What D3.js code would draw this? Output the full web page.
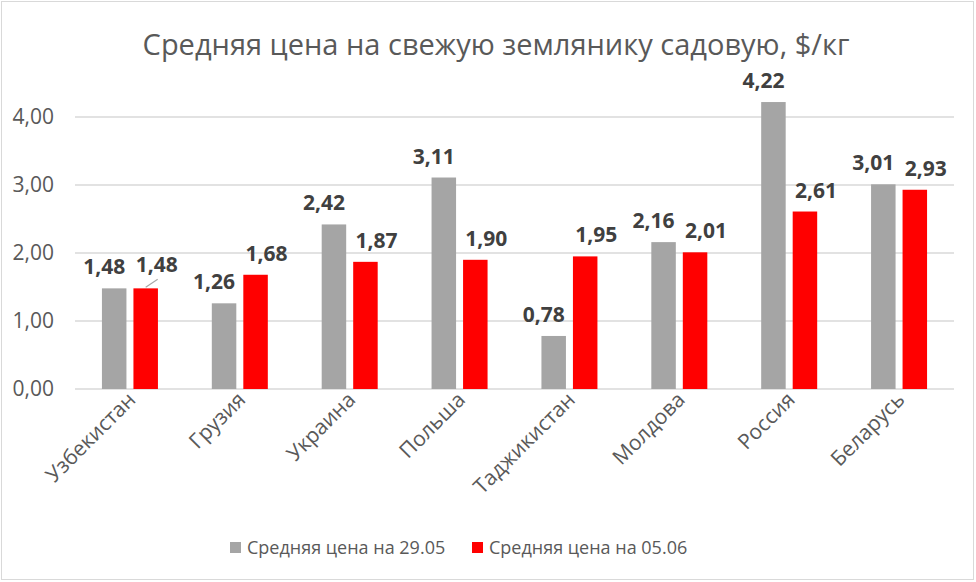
<!DOCTYPE html>
<html><head><meta charset="utf-8">
<script src="https://cdn.jsdelivr.net/npm/d3@7"></script>
<style>body{margin:0;background:#fff;}svg{display:block;font-family:"Open Sans",sans-serif;}</style>
</head><body>
<svg id="c" width="976" height="582"></svg>
<script>
const title = "Средняя цена на свежую землянику садовую, $/кг";
const categories = ["Узбекистан","Грузия","Украина","Польша","Таджикистан","Молдова","Россия","Беларусь"];
const seriesNames = ["Средняя цена на 29.05","Средняя цена на 05.06"];
const price2905 = [1.48,1.26,2.42,3.11,0.78,2.16,4.22,3.01];
const price0506 = [1.48,1.68,1.87,1.90,1.95,2.01,2.61,2.93];
const yTicks = [0,1,2,3,4];
const colors = ["#a5a5a5","#ff0000"];

const svg = d3.select("#c");
const fmt = v => d3.format(".2f")(v).replace(".", ",");

svg.append("rect").attr("x",1.5).attr("y",1.5).attr("width",972).attr("height",578)
  .attr("fill","#fff").attr("stroke","#d9d9d9").attr("stroke-width",1);

svg.append("text").attr("x",496).attr("y",55).attr("text-anchor","middle")
  .attr("font-size",29).attr("fill","#595959").text(title);

const x0 = d3.scaleBand().domain(categories).range([75,954]).padding(0);
const series = [price2905, price0506];
const barW = 24.5, gap = 7;
const x1 = i => (x0.bandwidth() - (2*barW+gap))/2 + i*(barW+gap);
const y = d3.scaleLinear().domain([0,4]).range([389,117]);

// gridlines + axis labels
const g = svg.append("g");
g.selectAll("line.grid").data(yTicks).join("line")
  .attr("x1",75).attr("x2",954).attr("y1",d=>y(d)).attr("y2",d=>y(d))
  .attr("stroke","#d9d9d9").attr("stroke-width",1.3);
g.selectAll("text.yl").data(yTicks).join("text")
  .attr("x",54).attr("y",d=>y(d)+7).attr("text-anchor","end")
  .attr("font-size",21).attr("fill","#595959").text(d=>fmt(d));

// bars
series.forEach((vals,si)=>{
  svg.append("g").selectAll("rect").data(vals).join("rect")
    .attr("x",(d,i)=>x0(categories[i])+x1(si))
    .attr("y",d=>y(d)).attr("width",barW).attr("height",d=>y(0)-y(d))
    .attr("fill",colors[si]);
});

// data labels
const dxs = [-10, 11];
series.forEach((vals,si)=>{
  svg.append("g").selectAll("text").data(vals).join("text")
    .attr("x",(d,i)=>x0(categories[i])+x1(si)+barW/2+dxs[si])
    .attr("y",(d,i)=> (si===1 && i===0) ? y(vals[i])-16 : y(d)-14)
    .attr("text-anchor","middle").attr("font-size",21).attr("font-weight","bold")
    .attr("fill","#404040").text(d=>fmt(d));
});
// leader line for moved label
{
  const cx = x0(categories[0])+x1(1)+barW/2;
  const ty = y(price0506[0]);
  svg.append("line").attr("x1",cx).attr("y1",ty-1).attr("x2",cx+12).attr("y2",ty-9)
    .attr("stroke","#a6a6a6").attr("stroke-width",1.2);
}

// category labels
svg.append("g").selectAll("text").data(categories).join("text")
  .attr("transform",d=>`translate(${x0(d)+x0.bandwidth()/2+7},${401}) rotate(-45)`)
  .attr("text-anchor","end").attr("font-size",21).attr("fill","#595959").text(d=>d);

// legend
const leg = [{x:230,tx:247},{x:472,tx:489}];
seriesNames.forEach((n,i)=>{
  svg.append("rect").attr("x",leg[i].x).attr("y",542).attr("width",11).attr("height",11).attr("fill",colors[i]);
  svg.append("text").attr("x",leg[i].tx).attr("y",554).attr("font-size",18).attr("fill","#595959").text(n);
});
</script>
</body></html>
